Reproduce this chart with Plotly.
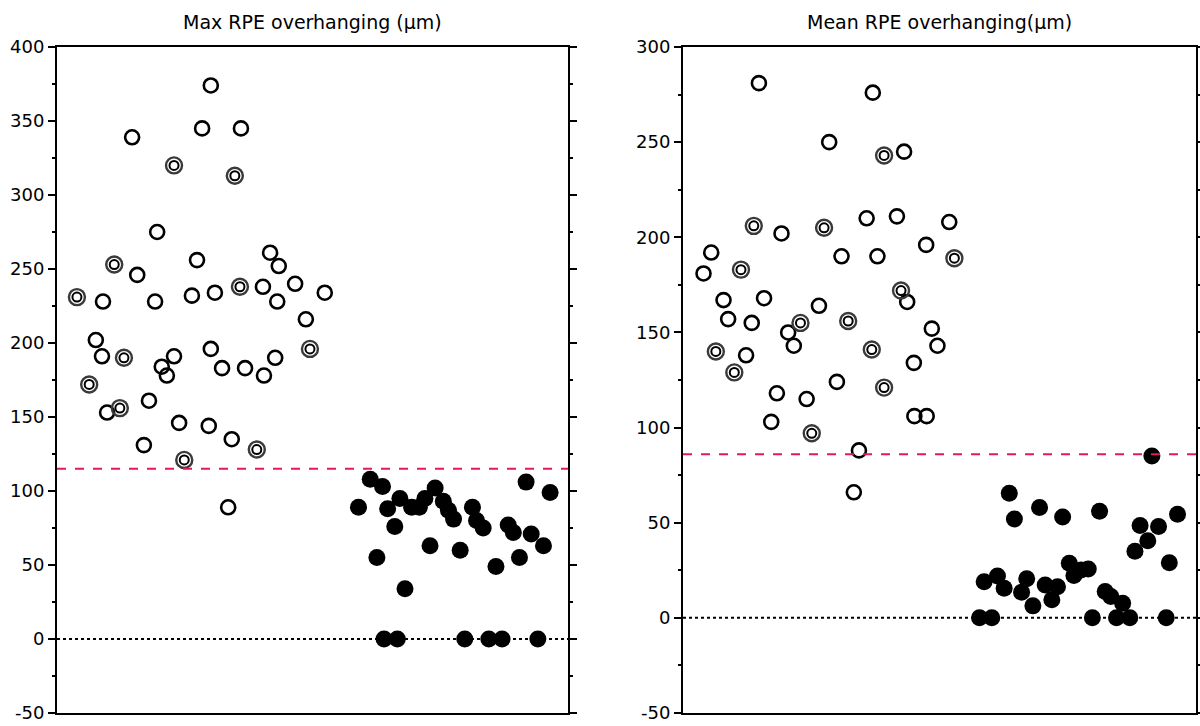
import plotly.graph_objects as go

# ---------------- data ----------------
# Left panel: Max RPE overhanging (µm)
max_open_x = [30.1, 28.4, 36.0, 14.7, 19.6, 41.7, 43.4, 15.7, 27.4, 9.0, 19.2, 26.4, 30.9, 40.3, 46.6,
              43.1, 52.4, 48.7, 7.6, 8.8, 22.9, 20.5, 21.5, 30.1, 32.3, 36.8, 42.7, 40.5, 18.0, 9.8,
              23.9, 29.7, 34.2, 17.0, 33.5]
max_open_y = [374, 345, 345, 339, 275, 261, 252, 246, 256, 228, 228, 232, 234, 238, 240,
              228, 234, 216, 202, 191, 191, 184, 178, 196, 183, 183, 190, 178, 161, 153,
              146, 144, 135, 131, 89]
max_double_x = [22.9, 34.8, 11.2, 3.9, 35.8, 13.1, 49.5, 6.3, 12.3, 39.1, 24.9]
max_double_y = [320, 313, 253, 231, 238, 190, 196, 172, 156, 128, 121]
max_filled_x = [59.0, 61.3, 63.7, 64.7, 62.6, 66.1, 67.1, 68.1, 69.4, 70.9, 72.0, 74.0, 73.0, 75.6,
                76.6, 77.6, 78.9, 81.3, 82.1, 83.4, 85.9, 88.3, 89.3, 90.5, 91.8, 92.8, 95.2, 96.5,
                64.0, 66.6, 79.8, 84.5, 87.1, 94.1]
max_filled_y = [89, 108, 103, 88, 55, 76, 95, 34, 89, 89, 95, 102, 63, 93,
                87, 81, 60, 89, 80, 75, 49, 77, 72, 55, 106, 71, 63, 99,
                0, 0, 0, 0, 0, 0]
max_cutoff = 115

# Right panel: Mean RPE overhanging (µm)
mean_open_x = [14.8, 37.0, 28.5, 43.1, 19.2, 35.8, 41.7, 51.9, 47.4, 5.5, 30.9, 37.9, 4.0, 7.9,
               15.8, 8.8, 13.4, 26.5, 20.5, 21.6, 43.7, 48.5, 49.6, 12.3, 45.0, 30.0, 18.3, 24.1,
               17.2, 45.1, 47.5, 34.3, 33.3]
mean_open_y = [281, 276, 250, 245, 202, 210, 211, 208, 196, 192, 190, 190, 181, 167,
               168, 157, 155, 164, 150, 143, 166, 152, 143, 138, 134, 124, 118, 115,
               103, 106, 106, 88, 66]
mean_double_x = [39.2, 13.8, 27.5, 52.9, 11.3, 22.9, 32.2, 42.5, 6.4, 36.8, 10.0, 39.2, 25.1]
mean_double_y = [243, 206, 205, 189, 183, 155, 156, 172, 140, 141, 129, 121, 97]
mean_filled_x = [63.6, 64.6, 69.5, 74.0, 81.2, 91.4, 96.4, 89.1, 92.7, 90.6, 88.1, 94.8, 58.7, 61.3,
                 62.6, 67.0, 66.0, 68.2, 70.6, 71.9, 73.0, 75.3, 76.2, 77.6, 79.0, 82.3, 83.4, 85.7,
                 57.8, 60.2, 79.8, 84.5, 87.1, 94.2]
mean_filled_y = [65.5, 52, 58, 53, 56, 85, 54.5, 48.5, 48, 40.5, 35, 29, 19, 22,
                 15.6, 20.5, 13.5, 6.3, 17.3, 9.5, 16.4, 28.7, 22.2, 25.2, 25.7, 13.8, 11.2, 7.7,
                 0, 0, 0, 0, 0, 0]
mean_cutoff = 86

titles = ["Max RPE overhanging (µm)", "Mean RPE overhanging(µm)"]
y_ranges = [(-50, 400), (-50, 300)]
tick_vals = [[-50, 0, 50, 100, 150, 200, 250, 300, 350, 400],
             [-50, 0, 50, 100, 150, 200, 250, 300]]

FONT = "DejaVu Sans, Liberation Sans, Arial, sans-serif"
RED = "#e8175d"

fig = go.Figure()

panels = [
    (max_open_x, max_open_y, max_double_x, max_double_y, max_filled_x, max_filled_y, max_cutoff),
    (mean_open_x, mean_open_y, mean_double_x, mean_double_y, mean_filled_x, mean_filled_y, mean_cutoff),
]

for i, (ox, oy, dx, dy, fx, fy, cut) in enumerate(panels):
    xa = "x" if i == 0 else "x2"
    ya = "y" if i == 0 else "y2"
    fig.add_trace(go.Scatter(x=fx, y=fy, mode="markers", xaxis=xa, yaxis=ya,
                             marker=dict(symbol="circle", size=17, color="black",
                                         line=dict(width=0)), showlegend=False))
    fig.add_trace(go.Scatter(x=ox, y=oy, mode="markers", xaxis=xa, yaxis=ya,
                             marker=dict(symbol="circle-open", size=14, color="black",
                                         line=dict(width=2.6, color="black")), showlegend=False))
    fig.add_trace(go.Scatter(x=dx, y=dy, mode="markers", xaxis=xa, yaxis=ya,
                             marker=dict(symbol="circle-open", size=16, color="#3a3a3a",
                                         line=dict(width=2.4, color="#3a3a3a")), showlegend=False))
    fig.add_trace(go.Scatter(x=dx, y=dy, mode="markers", xaxis=xa, yaxis=ya,
                             marker=dict(symbol="circle-open", size=9, color="black",
                                         line=dict(width=2, color="black")), showlegend=False))
    xref_dom = xa + " domain"
    fig.add_shape(type="line", xref=xref_dom, yref=ya, x0=0, x1=1, y0=cut, y1=cut,
                  line=dict(color=RED, width=2, dash="dash"))
    fig.add_shape(type="line", xref=xref_dom, yref=ya, x0=0, x1=1, y0=0, y1=0,
                  line=dict(color="black", width=2, dash="dot"))

dom_left = [57 / 1200, 568 / 1200]
dom_right = [683 / 1200, 1196 / 1200]
ydom = [(726 - 713) / 726, (726 - 47) / 726]

xcommon = dict(range=[0, 100], showline=True, linecolor="black", linewidth=2, mirror=True,
               showticklabels=False, ticks="", showgrid=False, zeroline=False,
               fixedrange=True, automargin=False)

def ycommon(r, tv):
    return dict(range=list(r), tickvals=tv, ticktext=[str(v) for v in tv],
                showline=True, linecolor="black", linewidth=2, mirror="ticks",
                ticks="outside", ticklen=7, tickwidth=2, tickcolor="black",
                minor=dict(dtick=25, tick0=0, ticks="outside", ticklen=3, tickwidth=2, tickcolor="black"),
                showgrid=False, zeroline=False, automargin=False, fixedrange=True,
                tickfont=dict(family=FONT, size=18, color="black"))

fig.update_layout(
    width=1200, height=726, autosize=False,
    margin=dict(l=0, r=0, t=0, b=0, pad=0),
    paper_bgcolor="white", plot_bgcolor="white",
    xaxis=dict(domain=dom_left, anchor="y", **xcommon),
    xaxis2=dict(domain=dom_right, anchor="y2", **xcommon),
    yaxis=dict(domain=ydom, anchor="x", **ycommon(y_ranges[0], tick_vals[0])),
    yaxis2=dict(domain=ydom, anchor="x2", **ycommon(y_ranges[1], tick_vals[1])),
    annotations=[
        dict(text=titles[0], x=(dom_left[0] + dom_left[1]) / 2, y=1 - 22 / 726,
             xref="paper", yref="paper", showarrow=False, xanchor="center", yanchor="middle",
             font=dict(family=FONT, size=19, color="black")),
        dict(text=titles[1], x=(dom_right[0] + dom_right[1]) / 2, y=1 - 22 / 726,
             xref="paper", yref="paper", showarrow=False, xanchor="center", yanchor="middle",
             font=dict(family=FONT, size=19, color="black")),
    ],
)

fig.write_html("out.html", config={"displayModeBar": False},
               post_script="document.body.style.margin='0px';")
